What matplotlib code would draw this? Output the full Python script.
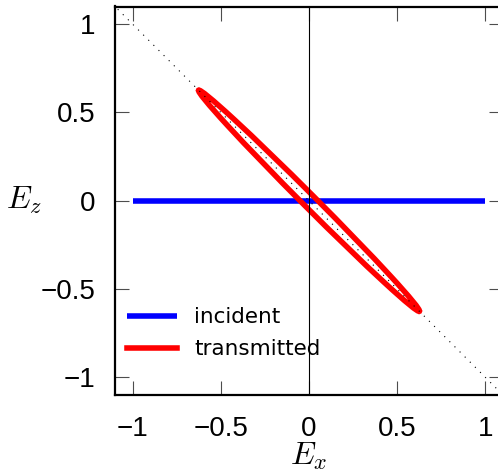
import matplotlib.pyplot as plt
from matplotlib.patches import Ellipse

plt.rcParams['mathtext.fontset'] = 'cm'

# incident field: linear polarisation along x
incident_x = [-1, 1]
incident_z = [0, 0]

# transmitted field: thin ellipse along the anti-diagonal
trans_center = (0, 0)
trans_semi_major = 0.885
trans_semi_minor = 0.036
trans_angle = -45

# reference lines
diag_x = [-1.2, 1.2]
diag_z = [1.2, -1.2]
vert_x = [0, 0]
vert_z = [-1.2, 1.2]

ticks = [-1, -0.5, 0, 0.5, 1]
tick_labels = ['\u22121', '\u22120.5', '0', '0.5', '1']

fig = plt.figure(figsize=(4.98, 4.72), dpi=100)
ax = fig.add_axes([115 / 498, 77 / 472, 388 / 498, 388.5 / 472])

ax.plot(incident_x, incident_z, color='#0000ff', lw=4, solid_capstyle='butt',
        label='incident', zorder=2)
ell = Ellipse(trans_center, 2 * trans_semi_major, 2 * trans_semi_minor,
              angle=trans_angle, fill=False, edgecolor='#ff0000', lw=4, zorder=3)
ax.add_patch(ell)
ax.plot([], [], color='#ff0000', lw=4, label='transmitted')
ax.plot(vert_x, vert_z, color='black', lw=0.8, zorder=4)
ax.plot(diag_x, diag_z, color='black', lw=0.8, linestyle=(0, (1, 5.5)), zorder=5)

ax.set_xlim(-1.1, 1.1)
ax.set_ylim(-1.1, 1.1)
ax.set_xticks(ticks)
ax.set_yticks(ticks)
ax.set_xticklabels(tick_labels, family='Liberation Sans', fontsize=20)
ax.set_yticklabels(tick_labels, family='Liberation Sans', fontsize=20)
ax.tick_params(direction='in', length=10, width=0.8, color='0.3',
               top=True, right=True)
ax.tick_params(axis='x', pad=15)
ax.tick_params(axis='y', pad=14)
for s in ax.spines.values():
    s.set_linewidth(1.6)

ax.set_xlabel('$E_x$', fontsize=23, va='baseline')
ax.xaxis.set_label_coords(0.5, -0.178)
ax.set_ylabel('$E_z$', fontsize=23, rotation=0, labelpad=12, va='center')

ax.legend(loc='lower left', bbox_to_anchor=(-0.018, 0.042), frameon=False,
          prop={'family': 'DejaVu Sans', 'size': 15.5},
          handlelength=2.3, handletextpad=0.8, labelspacing=0.55)

fig.savefig('out.png', dpi=100)
